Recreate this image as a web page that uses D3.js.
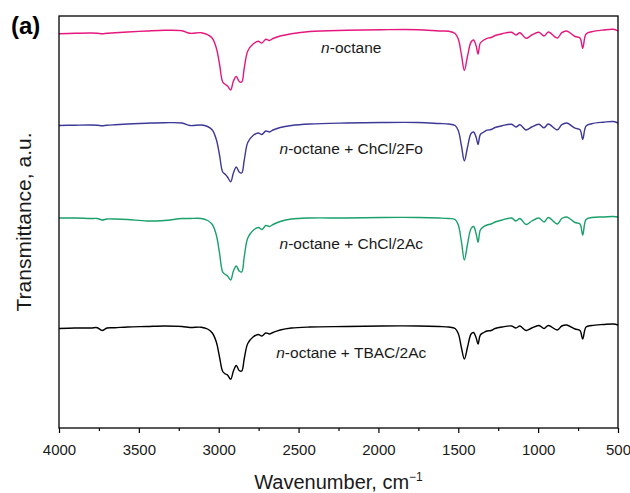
<!DOCTYPE html>
<html>
<head>
<meta charset="utf-8">
<script src="https://cdn.jsdelivr.net/npm/d3@7"></script>
<style>
  body { margin: 0; background: #fff; }
  svg { display: block; font-family: "Liberation Sans", Arial, sans-serif; }
</style>
</head>
<body>
<div id="graph"></div>
<script>
// FTIR spectra, wavenumber grid shared by all four traces (cm-1)
const wavenumbers = [4000, 3900, 3800, 3760, 3730, 3700, 3650, 3570, 3450, 3340, 3230, 3180, 3110, 3070,
  3040, 3015, 2995, 2975, 2958, 2945, 2925, 2908, 2890, 2872, 2856, 2840, 2818, 2785, 2752, 2730, 2705,
  2682, 2660, 2615, 2545, 2430, 2200, 1980, 1750, 1620, 1560, 1520, 1500, 1480, 1462, 1442, 1420, 1404,
  1388, 1376, 1362, 1340, 1320, 1295, 1270, 1225, 1166, 1139, 1114, 1076, 1040, 995, 963, 936, 880, 852,
  821, 769, 738, 721, 700, 665, 592, 529, 500];

// transmittance, a.u. (traces stacked)
const octane = [394.3, 394.7, 395, 394.7, 394.3, 394.7, 395.3, 396, 397, 397.7, 397.3, 394.7, 395.3, 393.3,
  389.7, 380, 364, 346, 343.5, 342, 338, 347, 351.5, 346.5, 346, 360, 377, 384, 386.7, 385, 388.7,
  387.5, 389.5, 392, 394.3, 396.5, 397.7, 398.3, 398.3, 397, 396.7, 394.5, 389, 373, 357.5, 372, 386, 388,
  382, 374, 385, 388, 389.7, 390.5, 392.5, 394.3, 395.7, 393, 395.3, 389.7, 393, 395.7, 392, 396, 390, 395.3,
  397, 391.5, 390, 379.7, 394, 396.3, 398, 398.7, 397];

const octaneChCl2Fo = [302.5, 302.8, 303, 302.8, 302.3, 302.8, 303.3, 304, 304.8, 305.3, 305, 302.5, 303, 301.5,
  298, 288.5, 273, 256, 253.5, 251, 246.3, 255, 261, 256, 255, 268, 285.5, 292.5, 295, 293.5, 297,
  296, 298, 300.5, 302.5, 304, 305, 305.5, 305.5, 304.5, 304, 302.5, 297.5, 282, 267, 281, 294.5, 296,
  290.5, 283.5, 293.5, 296, 297.8, 298.5, 300.5, 302.3, 303.7, 301, 303.3, 298, 301, 303.7, 300.2, 304, 298.2, 303.3,
  305, 299.8, 298.3, 288.7, 302, 304.3, 305.8, 306.5, 305];

const octaneChCl2Ac = [210, 210, 209.5, 209.5, 208, 209, 209, 208.5, 207, 207.5, 209.5, 209.5, 209.5, 207.5,
  203.5, 193, 175, 156, 153.5, 152, 148, 157, 162, 157, 156, 171.5, 190, 197.5, 200.5, 198.5, 202.5,
  201.5, 203.5, 206.5, 209, 210, 210, 210.5, 210.5, 210, 209.5, 208.5, 203, 186, 168, 184, 199.5, 201.5,
  194, 185.7, 198, 201.5, 203, 204, 206, 208, 210, 207, 209.5, 203.5, 207, 210, 206, 210.5, 204, 209.5,
  211, 205.5, 204, 193, 208.5, 210.5, 211, 211.5, 211];

const octaneTBAC2Ac = [99.5, 100, 100, 100.3, 97.5, 100, 100.3, 101, 101.5, 102, 101.5, 100.5, 100.8, 99,
  95, 86, 71, 56.5, 54, 53, 48.7, 57, 62.5, 57.5, 57, 69.5, 84.5, 91, 93.5, 92, 95,
  94, 95.5, 98, 100, 101, 101.5, 102, 102, 101.5, 101, 99.5, 94.5, 80, 69, 81, 94, 95.5,
  90, 84, 93, 95.5, 97, 97.5, 99.5, 101, 102, 100, 102, 97.5, 100, 102.5, 99.5, 102.5, 98, 102,
  103, 99, 97.5, 89, 101, 102.5, 103.5, 104, 103];

const seriesNames = ['n-octane', 'n-octane + ChCl/2Fo', 'n-octane + ChCl/2Ac', 'n-octane + TBAC/2Ac'];
const seriesColors = ['#e5177d', '#3e3896', '#19a06b', '#000000'];
const seriesValues = [octane, octaneChCl2Fo, octaneChCl2Ac, octaneTBAC2Ac];
// label anchor: wavenumber and a.u. level
const labelLevels = [375, 274, 179.5, 70];
const labelWavenumber = 2170;

const majorTicks = [4000, 3500, 3000, 2500, 2000, 1500, 1000, 500];
const minorTicks = [3750, 3250, 2750, 2250, 1750, 1250, 750];

const margin = {top: 16, right: 12, bottom: 65, left: 59},
  width = 630 - margin.left - margin.right,
  height = 493 - margin.top - margin.bottom;

const x = d3.scaleLinear().domain([4000, 500]).range([0, width]);
const y = d3.scaleLinear().domain([0, height]).range([height, 0]);

const svg = d3.select('#graph')
  .append('svg')
  .attr('width', 630)
  .attr('height', 493)
  .append('g')
  .attr('transform', `translate(${margin.left},${margin.top})`);

// spectra
const line = d3.line()
  .x(d => x(d[0]))
  .y(d => y(d[1]))
  .curve(d3.curveCatmullRom.alpha(0.5));

seriesValues.forEach((vals, i) => {
  svg.append('path')
    .datum(wavenumbers.map((w, j) => [w, vals[j]]))
    .attr('fill', 'none')
    .attr('stroke', seriesColors[i])
    .attr('stroke-width', 1.4)
    .attr('stroke-linejoin', 'round')
    .attr('d', line);
});

// trace labels, n in italics
seriesNames.forEach((name, i) => {
  const t = svg.append('text')
    .attr('x', x(labelWavenumber))
    .attr('y', y(labelLevels[i]))
    .attr('text-anchor', 'middle')
    .attr('font-size', '15.5px')
    .attr('fill', '#1a1a1a');
  t.append('tspan').attr('font-style', 'italic').text('n');
  t.append('tspan').text(name.slice(1));
});

// x axis
svg.append('g')
  .attr('transform', `translate(0,${height})`)
  .call(d3.axisBottom(x).tickValues(minorTicks).tickSize(3).tickFormat(''))
  .call(g => g.select('.domain').remove())
  .call(g => g.selectAll('line').attr('stroke-width', 1.2));

svg.append('g')
  .attr('transform', `translate(0,${height})`)
  .call(d3.axisBottom(x).tickValues(majorTicks).tickSize(5).tickPadding(11).tickFormat(d3.format('d')))
  .call(g => g.select('.domain').remove())
  .call(g => g.selectAll('line').attr('stroke-width', 1.2))
  .call(g => g.selectAll('text')
    .attr('font-size', '15px')
    .attr('font-family', '"Liberation Sans", Arial, sans-serif')
    .attr('fill', '#1a1a1a'));

// frame
svg.append('rect')
  .attr('width', width)
  .attr('height', height)
  .attr('fill', 'none')
  .attr('stroke', '#000')
  .attr('stroke-width', 1.3);

// axis titles
const xt = svg.append('text')
  .attr('x', width / 2)
  .attr('y', height + 61)
  .attr('text-anchor', 'middle')
  .attr('font-size', '20px')
  .attr('fill', '#1a1a1a')
  .text('Wavenumber, cm');
xt.append('tspan')
  .attr('dy', -8)
  .attr('font-size', '12px')
  .text('\u22121');

svg.append('text')
  .attr('transform', `translate(${-28.5},${height / 2}) rotate(-90)`)
  .attr('text-anchor', 'middle')
  .attr('font-size', '21px')
  .attr('fill', '#1a1a1a')
  .text('Transmittance, a.u.');

// panel letter
svg.append('text')
  .attr('x', -48)
  .attr('y', 18)
  .attr('font-size', '24px')
  .attr('font-weight', 'bold')
  .text('(a)');
</script>
</body>
</html>
